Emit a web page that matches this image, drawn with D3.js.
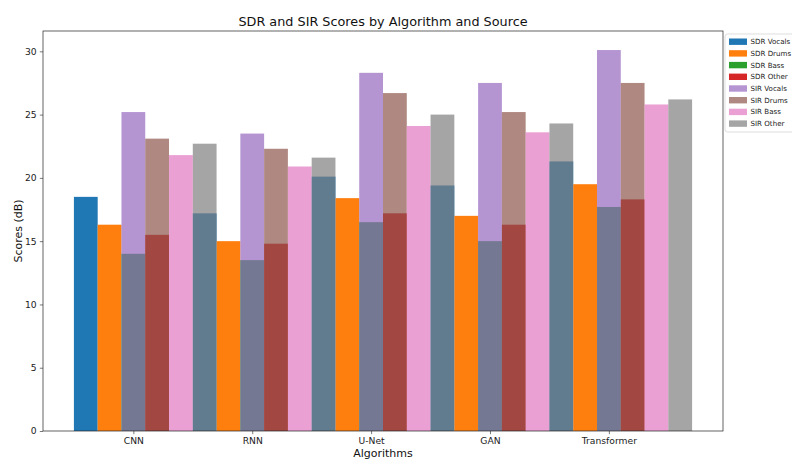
<!DOCTYPE html>
<html>
<head>
<meta charset="utf-8">
<script src="https://cdn.jsdelivr.net/npm/d3@7"></script>
<style>
  html, body { margin: 0; padding: 0; background: #fff; }
  svg { display: block; font-family: "DejaVu Sans", sans-serif; }
</style>
</head>
<body>
<svg id="chart" width="792" height="460"></svg>
<script>
// Separation scores (dB) per algorithm and source
const algorithms = ["CNN", "RNN", "U-Net", "GAN", "Transformer"];
const sdrVocals = [18.5, 17.2, 20.1, 19.4, 21.3];
const sdrDrums  = [16.3, 15.0, 18.4, 17.0, 19.5];
const sdrBass   = [14.0, 13.5, 16.5, 15.0, 17.7];
const sdrOther  = [15.5, 14.8, 17.2, 16.3, 18.3];
const sirVocals = [25.2, 23.5, 28.3, 27.5, 30.1];
const sirDrums  = [23.1, 22.3, 26.7, 25.2, 27.5];
const sirBass   = [21.8, 20.9, 24.1, 23.6, 25.8];
const sirOther  = [22.7, 21.6, 25.0, 24.3, 26.2];
const yTicks = [0, 5, 10, 15, 20, 25, 30];

// Bar series: SDR bars sit left of each category, SIR bars to the right (translucent)
const barWidth = 0.2;
const series = [
  { name: "SDR Vocals", values: sdrVocals, offset: -2, color: "#1f77b4", alpha: 1 },
  { name: "SDR Drums",  values: sdrDrums,  offset: -1, color: "#ff7f0e", alpha: 1 },
  { name: "SDR Bass",   values: sdrBass,   offset: 0,  color: "#2ca02c", alpha: 1 },
  { name: "SDR Other",  values: sdrOther,  offset: 1,  color: "#d62728", alpha: 1 },
  { name: "SIR Vocals", values: sirVocals, offset: 0,  color: "#9467bd", alpha: 0.7 },
  { name: "SIR Drums",  values: sirDrums,  offset: 1,  color: "#8c564b", alpha: 0.7 },
  { name: "SIR Bass",   values: sirBass,   offset: 2,  color: "#e377c2", alpha: 0.7 },
  { name: "SIR Other",  values: sirOther,  offset: 3,  color: "#7f7f7f", alpha: 0.7 }
];

const plot = { left: 43, right: 723, top: 31, bottom: 431 };
const svg = d3.select("#chart");

// x: numeric category positions with 5% margins around the bar extent
const xMin = -2 * barWidth - barWidth / 2, xMax = (algorithms.length - 1) + 3 * barWidth + barWidth / 2;
const xPad = (xMax - xMin) * 0.05;
const x = d3.scaleLinear().domain([xMin - xPad, xMax + xPad]).range([plot.left, plot.right]);

const yMax = d3.max(series, s => d3.max(s.values)) * 1.05;
const y = d3.scaleLinear().domain([0, yMax]).range([plot.bottom, plot.top]);

// Bars
const bw = x(barWidth) - x(0);
series.forEach(s => {
  svg.append("g").selectAll("rect")
    .data(s.values)
    .join("rect")
    .attr("x", (d, i) => x(i + s.offset * barWidth) - bw / 2)
    .attr("width", bw)
    .attr("y", d => y(d))
    .attr("height", d => y(0) - y(d))
    .attr("fill", s.color)
    .attr("fill-opacity", s.alpha);
});

// Axes
const tickColor = "#222";
const xAxis = d3.axisBottom(x)
  .tickValues(d3.range(algorithms.length))
  .tickFormat(i => algorithms[i])
  .tickSize(3.2).tickPadding(3.2);
const gx = svg.append("g").attr("transform", `translate(0,${plot.bottom})`).call(xAxis);
gx.select(".domain").remove();
gx.selectAll("line").attr("stroke", tickColor).attr("stroke-width", 0.6);
gx.selectAll("text").attr("font-size", 9.2).attr("fill", tickColor)
  .attr("font-family", "DejaVu Sans");

const yAxis = d3.axisLeft(y).tickValues(yTicks).tickSize(3.2).tickPadding(3.2);
const gy = svg.append("g").attr("transform", `translate(${plot.left},0)`).call(yAxis);
gy.select(".domain").remove();
gy.selectAll("line").attr("stroke", tickColor).attr("stroke-width", 0.6);
gy.selectAll("text").attr("font-size", 9.2).attr("fill", tickColor)
  .attr("font-family", "DejaVu Sans");

// Frame
svg.append("rect")
  .attr("x", plot.left).attr("y", plot.top)
  .attr("width", plot.right - plot.left).attr("height", plot.bottom - plot.top)
  .attr("fill", "none").attr("stroke", "#222").attr("stroke-width", 0.7);

// Title and axis labels
svg.append("text")
  .attr("x", (plot.left + plot.right) / 2).attr("y", 25.5)
  .attr("text-anchor", "middle").attr("font-size", 12.8).attr("fill", "#111")
  .text("SDR and SIR Scores by Algorithm and Source");
svg.append("text")
  .attr("x", (plot.left + plot.right) / 2).attr("y", 457)
  .attr("text-anchor", "middle").attr("font-size", 11).attr("fill", "#111")
  .text("Algorithms");
svg.append("text")
  .attr("transform", `translate(18,${(plot.top + plot.bottom) / 2}) rotate(-90)`)
  .attr("text-anchor", "middle").attr("dominant-baseline", "central")
  .attr("font-size", 11).attr("fill", "#111")
  .text("Scores (dB)");

// Legend, anchored just outside the top-right corner of the plot
const legend = svg.append("g").attr("transform", "translate(725,34)");
legend.append("rect")
  .attr("x", 0).attr("y", 0).attr("width", 100).attr("height", 98)
  .attr("rx", 2.5).attr("fill", "#fff").attr("fill-opacity", 0.8)
  .attr("stroke", "#d0d0d0").attr("stroke-width", 0.7);
const rowH = 11.7;
const rows = legend.selectAll("g.item").data(series).join("g")
  .attr("class", "item")
  .attr("transform", (d, i) => `translate(0,${7.7 + i * rowH})`);
rows.append("rect")
  .attr("x", 4).attr("y", -3.2).attr("width", 18).attr("height", 6.4)
  .attr("fill", d => d.color).attr("fill-opacity", d => d.alpha);
rows.append("text")
  .attr("x", 25.5).attr("y", 0).attr("dominant-baseline", "central")
  .attr("font-size", 7.1).attr("fill", "#222")
  .text(d => d.name);
</script>
</body>
</html>
